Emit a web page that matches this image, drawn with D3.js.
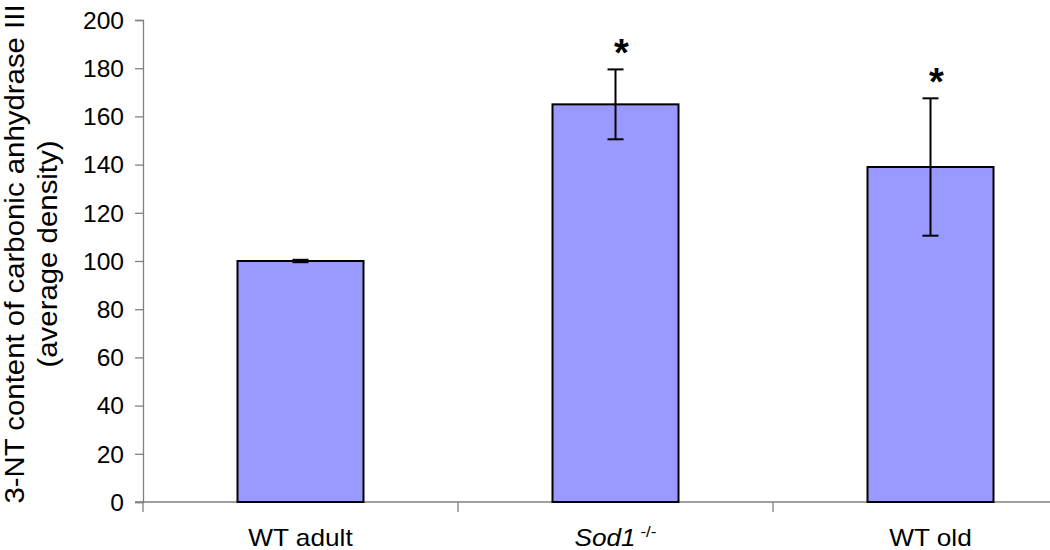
<!DOCTYPE html>
<html>
<head>
<meta charset="utf-8">
<script src="https://cdn.jsdelivr.net/npm/d3@7"></script>
<style>
  body { margin: 0; background: #fff; }
  text { font-family: "Liberation Sans", Arial, sans-serif; }
</style>
</head>
<body>
<svg id="chart" width="1050" height="550"></svg>
<script>
const categories = ["WT adult", "Sod1", "WT old"];
const values = [100, 165, 139];
const errors = [0.5, 14.5, 28.5];
const significant = [false, true, true];
const yTicks = [0, 20, 40, 60, 80, 100, 120, 140, 160, 180, 200];

const svg = d3.select("#chart");
const plotLeft = 143, plotRight = 1088, plotTop = 20, plotBottom = 502;

const x = d3.scaleBand().domain(categories).range([plotLeft, plotRight]).paddingInner(0.6).paddingOuter(0.3);
const y = d3.scaleLinear().domain([0, 200]).range([plotBottom, plotTop]);

// y axis
const yAxis = svg.append("g")
  .attr("transform", `translate(${plotLeft},0)`)
  .call(d3.axisLeft(y).tickValues(yTicks).tickSize(8).tickPadding(0));
yAxis.select(".domain").attr("stroke", "#808080").attr("stroke-width", 1.3);
yAxis.selectAll(".tick line").attr("stroke", "#808080").attr("stroke-width", 1.3);
// slightly wide digits like the original
yAxis.selectAll(".tick text")
  .attr("x", null).attr("dy", "0.36em")
  .attr("font-size", 23).attr("fill", "#000")
  .attr("font-family", "Liberation Sans, Arial, sans-serif")
  .attr("transform", "translate(-19,0) scale(1.07,1)");

// x axis line
svg.append("line")
  .attr("x1", plotLeft - 8).attr("x2", 1050)
  .attr("y1", plotBottom).attr("y2", plotBottom)
  .attr("stroke", "#808080").attr("stroke-width", 1.3);

// category boundary ticks
const step = x.step();
svg.append("g").selectAll("line")
  .data(d3.range(categories.length))
  .join("line")
  .attr("x1", i => plotLeft + i * step).attr("x2", i => plotLeft + i * step)
  .attr("y1", plotBottom).attr("y2", plotBottom + 10)
  .attr("stroke", "#808080").attr("stroke-width", 1.3);

// bars
svg.append("g").selectAll("rect")
  .data(values)
  .join("rect")
  .attr("x", (d, i) => x(categories[i]))
  .attr("y", d => y(d))
  .attr("width", x.bandwidth())
  .attr("height", d => y(0) - y(d))
  .attr("fill", "#9999ff")
  .attr("stroke", "#000")
  .attr("stroke-width", 2);

// error bars + stars
const eb = svg.append("g").attr("stroke", "#000").attr("stroke-width", 2);
values.forEach((v, i) => {
  const cx = x(categories[i]) + x.bandwidth() / 2;
  const e = errors[i];
  eb.append("line").attr("x1", cx).attr("x2", cx).attr("y1", y(v + e)).attr("y2", y(v - e));
  eb.append("line").attr("x1", cx - 8).attr("x2", cx + 8).attr("y1", y(v + e)).attr("y2", y(v + e));
  eb.append("line").attr("x1", cx - 8).attr("x2", cx + 8).attr("y1", y(v - e)).attr("y2", y(v - e));
  if (significant[i]) {
    svg.append("text")
      .attr("x", cx + 6).attr("y", y(v + e) - 3)
      .attr("text-anchor", "middle")
      .attr("font-size", 38).attr("font-weight", "bold")
      .text("*");
  }
});

// x labels
const xl = svg.append("g").selectAll("text")
  .data(categories)
  .join("text")
  .attr("transform", d => `translate(${x(d) + x.bandwidth() / 2},546) scale(1.14,1)`)
  .attr("text-anchor", "middle")
  .attr("font-size", 23);
xl.each(function(d) {
  const t = d3.select(this);
  if (d === "Sod1") {
    t.append("tspan").attr("font-style", "italic").text("Sod1");
    t.append("tspan").attr("font-size", 15).attr("dy", -9).text(" -/-");
  } else {
    t.text(d);
  }
});

// y label
const yl = svg.append("text")
  .attr("transform", "translate(0,254) rotate(-90) scale(1.05,1)")
  .attr("text-anchor", "middle")
  .attr("font-size", 28);
yl.append("tspan").attr("x", 0).attr("y", 24).text("3-NT content of carbonic anhydrase III");
yl.append("tspan").attr("x", 0).attr("y", 57).text("(average density)");
</script>
</body>
</html>
